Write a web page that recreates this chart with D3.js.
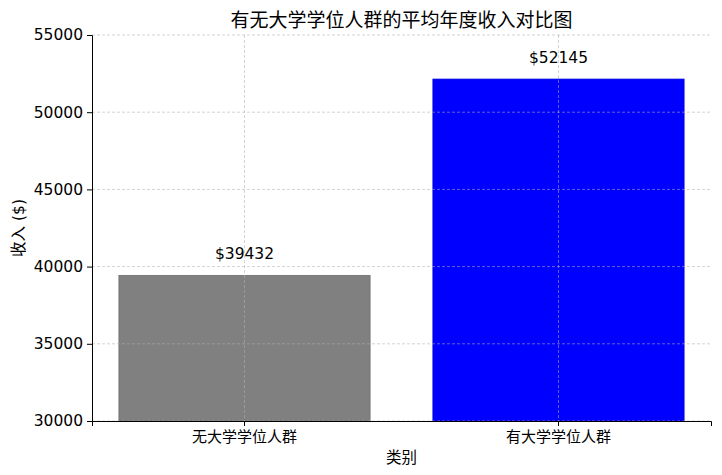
<!DOCTYPE html>
<html>
<head>
<meta charset="utf-8">
<script src="https://cdn.jsdelivr.net/npm/d3@7"></script>
<style>
  body { margin: 0; background: #fff; }
  svg text { font-family: "DejaVu Sans", "Noto Sans CJK SC", sans-serif; fill: #000; }
</style>
</head>
<body>
<svg id="chart" width="722" height="475"></svg>
<script>
const categories = ['无大学学位人群', '有大学学位人群'];
const incomes = [39432, 52145];
const barColors = ['#808080', '#0000ff'];
const yTicks = [30000, 35000, 40000, 45000, 50000, 55000];
const titleText = '有无大学学位人群的平均年度收入对比图';
const xLabel = '类别';
const yLabel = '收入 ($)';

const svg = d3.select('#chart');
const plotLeft = 92, plotRight = 711, plotTop = 35, plotBottom = 421;

const x = d3.scaleBand().domain(categories).range([plotLeft, plotRight])
  .paddingInner(0.2).paddingOuter(0.0857);
const y = d3.scaleLinear().domain([30000, 55000]).range([plotBottom, plotTop]);

// bars
svg.selectAll('.bar').data(incomes).enter().append('rect')
  .attr('x', (_, i) => x(categories[i])).attr('width', x.bandwidth())
  .attr('y', d => y(d)).attr('height', d => plotBottom - y(d))
  .attr('fill', (_, i) => barColors[i])
  .attr('stroke', (_, i) => d3.color(barColors[i]).darker(0.4)).attr('stroke-width', 0.8);

// grid (drawn over bars, as in the reference)
const grid = svg.append('g').attr('stroke', '#b0b0b0').attr('stroke-opacity', 0.7)
  .attr('stroke-dasharray', '3,2').attr('stroke-width', 0.8);
grid.selectAll('.hg').data(yTicks).enter().append('line')
  .attr('x1', plotLeft).attr('x2', plotRight).attr('y1', d => y(d)).attr('y2', d => y(d));
grid.selectAll('.vg').data(categories).enter().append('line')
  .attr('x1', d => x(d) + x.bandwidth() / 2).attr('x2', d => x(d) + x.bandwidth() / 2)
  .attr('y1', plotTop).attr('y2', plotBottom);

// axes
const yAxis = svg.append('g').attr('transform', `translate(${plotLeft},0)`)
  .call(d3.axisLeft(y).tickValues(yTicks).tickFormat(d3.format('d')).tickSize(5).tickPadding(4));
const xAxis = svg.append('g').attr('transform', `translate(0,${plotBottom})`)
  .call(d3.axisBottom(x).tickSize(5).tickPadding(5));
[yAxis, xAxis].forEach(a => {
  a.attr('font-family', null).attr('font-size', null);
  a.selectAll('text').style('font-size', '15.5px');
  a.select('.domain').attr('stroke', '#000').attr('stroke-width', 1);
  a.selectAll('.tick line').attr('stroke', '#000');
});
xAxis.selectAll('text').style('font-size', '15px');

// value labels
svg.selectAll('.val').data(incomes).enter().append('text')
  .attr('x', (_, i) => x(categories[i]) + x.bandwidth() / 2)
  .attr('y', d => y(d + 1000) - 1)
  .attr('text-anchor', 'middle').style('font-size', '15.5px')
  .text(d => `$${d}`);

// title and axis labels
svg.append('text').attr('x', (plotLeft + plotRight) / 2).attr('y', 27)
  .attr('text-anchor', 'middle').style('font-size', '19px').text(titleText);
svg.append('text').attr('x', (plotLeft + plotRight) / 2).attr('y', 463)
  .attr('text-anchor', 'middle').style('font-size', '15.5px').text(xLabel);
svg.append('text').attr('transform', `translate(24,${(plotTop + plotBottom) / 2}) rotate(-90)`)
  .attr('text-anchor', 'middle').style('font-size', '15.5px').text(yLabel);
</script>
</body>
</html>
